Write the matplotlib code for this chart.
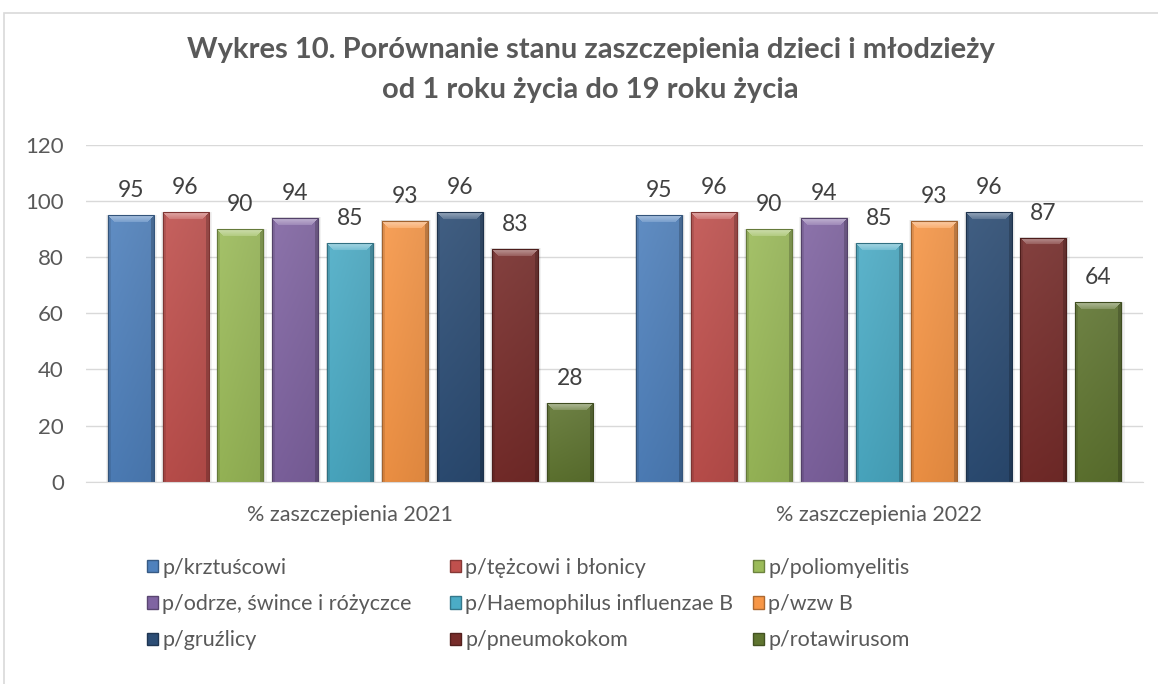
import numpy as np
import matplotlib
matplotlib.use("Agg")
import matplotlib.pyplot as plt
from matplotlib.patches import Patch, Rectangle
from matplotlib import colors as mcolors

plt.rcParams['font.family'] = ['Lato', 'DejaVu Sans']

# dane
kategorie = ['% zaszczepienia 2021', '% zaszczepienia 2022']
szczepienia = ['p/krztuścowi', 'p/tężcowi i błonicy', 'p/poliomyelitis',
               'p/odrze, śwince i różyczce', 'p/Haemophilus influenzae B', 'p/wzw B',
               'p/gruźlicy', 'p/pneumokokom', 'p/rotawirusom']
wartosci_2021 = [95, 96, 90, 94, 85, 93, 96, 83, 28]
wartosci_2022 = [95, 96, 90, 94, 85, 93, 96, 87, 64]
kolory = ['#4F81BD', '#C0504D', '#9BBB59', '#8064A2', '#4BACC6', '#F79646',
          '#2C4D75', '#772C2A', '#5F7530']

W, H = 1158, 684
fig = plt.figure(figsize=(W / 100, H / 100), dpi=100)
ax = fig.add_axes([86 / W, 1 - 481.7 / H, (1143 - 86) / W, (481.7 - 145) / H])

# ramka wykresu
fig.patches.append(Rectangle((4 / W, -0.1), 1.2, 1.1 - 13 / H, transform=fig.transFigure,
                             fill=False, edgecolor='#d9d9d9', linewidth=1.2))

ax.set_xlim(-0.5, 1.5)
ax.set_ylim(0, 120)
ax.set_yticks(range(0, 121, 20))
ax.set_xticks([0, 1])
ax.set_xticklabels(kategorie, fontsize=15.5)
ax.grid(axis='y', color='#d9d9d9', linewidth=1)
ax.set_axisbelow(True)
for s in ['top', 'right', 'left']:
    ax.spines[s].set_visible(False)
ax.spines['bottom'].set_color('#d9d9d9')
ax.tick_params(axis='both', length=0, colors='#595959')
ax.tick_params(axis='y', pad=16, labelsize=16)
ax.tick_params(axis='x', pad=17)


def jasniej(c, f):
    c = np.array(mcolors.to_rgb(c))
    return c + (1 - c) * f


def ciemniej(c, f):
    return np.array(mcolors.to_rgb(c)) * (1 - f)


def gradient(kolor, hp, wp, b=7):
    hp = max(int(round(hp)), 2)
    wp = max(int(round(wp)), 2)
    img = np.zeros((hp, wp, 3))
    r = np.arange(hp)[:, None] * np.ones((1, wp))
    c = np.ones((hp, 1)) * np.arange(wp)[None, :]
    t = r / hp
    s = c / wp
    gora_k = jasniej(kolor, 0.1)
    dol_k = ciemniej(kolor, 0.05)
    img[:] = gora_k[None, None, :] * (1 - t[..., None]) + dol_k[None, None, :] * t[..., None]
    # lekkie przyciemnienie przy prawej krawędzi
    img *= (1 - 0.06 * s[..., None])
    lewa = (c < 3) & (c < r)
    prawa = ((wp - 1 - c) < 3) & ((wp - 1 - c) < r)
    gora = (r < b) & (r <= c) & (r <= wp - 1 - c)
    img[lewa] = img[lewa] * 0.9
    img[prawa] = img[prawa] * 0.8
    tt = (r / b)[gora]
    img[gora] = jasniej(kolor, 0.5)[None, :] * (1 - tt[:, None]) + jasniej(kolor, 0.22)[None, :] * tt[:, None]
    return img


krok = 0.1039
szer = 0.087
x = np.arange(len(kategorie))
fig.canvas.draw()
for i, (nazwa, kolor) in enumerate(zip(szczepienia, kolory)):
    vals = [wartosci_2021[i], wartosci_2022[i]]
    bars = ax.bar(x + (i - 4) * krok, vals, width=szer, color=kolor,
                  edgecolor=ciemniej(kolor, 0.35), linewidth=0.8, label=nazwa, zorder=2)
    for p, v in zip(bars, vals):
        # cień
        for d, a in [(0.006, 0.05), (0.003, 0.08)]:
            ax.add_patch(Rectangle((p.get_x() - d * 0.5, 0), p.get_width() + d * 1.5,
                                   p.get_height() + 0.2, facecolor='#000000', alpha=a,
                                   edgecolor='none', zorder=1.5))
        (x0, y0), (x1, y1) = ax.transData.transform([(p.get_x(), 0),
                                                      (p.get_x() + p.get_width(), p.get_height())])
        im = ax.imshow(gradient(kolor, y1 - y0, x1 - x0),
                       extent=(p.get_x(), p.get_x() + p.get_width(), 0, p.get_height()),
                       aspect='auto', interpolation='bilinear', zorder=2.1)
        im.set_clip_path(p)
        ax.annotate(f'{v}', (p.get_x() + p.get_width() / 2, v), xytext=(0, 13),
                    textcoords='offset points', ha='center', va='baseline',
                    fontsize=16.5, color='#404040')
    for p in bars:
        p.set_facecolor('none')
        p.set_zorder(2.2)
ax.set_xlim(-0.5, 1.5)
ax.set_ylim(0, 120)

fig.text(0.51, 1 - 50 / H, 'Wykres 10. Porównanie stanu zaszczepienia dzieci i młodzieży',
         ha='center', va='center', fontsize=21, fontweight='bold', color='#595959')
fig.text(0.51, 1 - 90 / H, 'od 1 roku życia do 19 roku życia',
         ha='center', va='center', fontsize=21, fontweight='bold', color='#595959')

# legenda w trzech kolumnach
uchwyty = [Patch(facecolor=k, edgecolor=ciemniej(k, 0.3)) for k in kolory]
for kol, xp in enumerate([147, 450, 753]):
    idx = [kol, kol + 3, kol + 6]
    fig.legend([uchwyty[j] for j in idx], [szczepienia[j] for j in idx],
               loc='upper left', bbox_to_anchor=(xp / W, 1 - 558 / H),
               frameon=False, fontsize=15.5, borderpad=0, borderaxespad=0,
               handlelength=0.5, handleheight=0.5, handletextpad=0.2,
               labelspacing=0.75, labelcolor='#595959')

fig.savefig('out.png', dpi=100)
